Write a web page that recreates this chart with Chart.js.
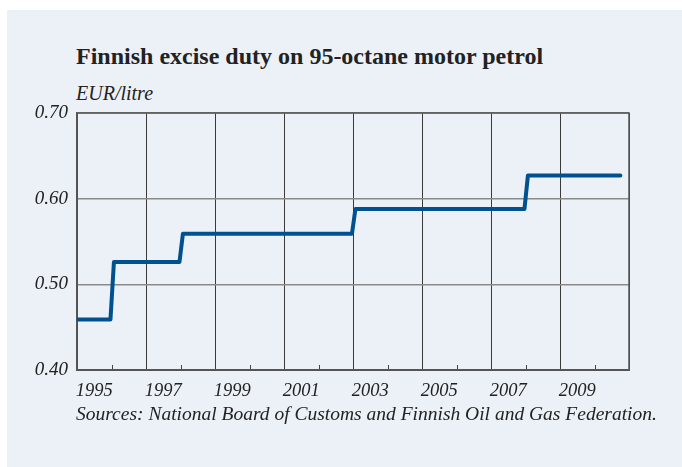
<!DOCTYPE html>
<html lang="en">
<head>
    <meta charset="UTF-8">
    <title>Finnish excise duty on 95-octane motor petrol</title>
    <style>
        body {
            margin: 0;
            background: #fff;
            font-family: "Liberation Serif", "Times New Roman", serif;
            color: #222;
        }
        .frame {
            position: relative;
            width: 682px;
            height: 467px;
            overflow: hidden;
        }
        .panel {
            position: absolute;
            left: 7px;
            top: 10px;
            right: 0;
            bottom: 0;
            background-color: #ecf1f8;
        }
        canvas {
            position: absolute;
            left: 0;
            top: 0;
        }
        .title {
            position: absolute;
            left: 76px;
            top: 44px;
            font-size: 24px;
            line-height: 24px;
            font-weight: bold;
            white-space: nowrap;
        }
        .unit {
            position: absolute;
            left: 76px;
            top: 83px;
            font-size: 20px;
            line-height: 20px;
            font-style: italic;
        }
        .source {
            position: absolute;
            left: 76px;
            top: 404px;
            font-size: 19.5px;
            line-height: 19.5px;
            font-style: italic;
            white-space: nowrap;
        }
    </style>
    <script src="https://cdn.jsdelivr.net/npm/chart.js"></script>
</head>
<body>
<div class="frame">
    <div class="panel"></div>
    <div class="title">Finnish excise duty on 95-octane motor petrol</div>
    <div class="unit">EUR/litre</div>
    <canvas id="dutyChart" width="682" height="467"></canvas>
    <div class="source">Sources: National Board of Customs and Finnish Oil and Gas Federation.</div>
</div>
<script>
    // dates when the duty changed (decimal year) and the rate after the change
    const stepYears = [1995.0, 1996.0, 1998.0, 2003.0, 2008.0];
    const dutyRates = [0.459, 0.526, 0.559, 0.588, 0.627];
    const lastYear = 2010.75;

    const yearLabels = [1995, 1997, 1999, 2001, 2003, 2005, 2007, 2009];
    const yTicks = [0.40, 0.50, 0.60, 0.70];

    // step line: flat segments joined by short ramps
    const points = [{ x: stepYears[0], y: dutyRates[0] }];
    for (let i = 1; i < stepYears.length; i++) {
        points.push({ x: stepYears[i] - 0.03, y: dutyRates[i - 1] });
        points.push({ x: stepYears[i] + 0.07, y: dutyRates[i] });
    }
    points.push({ x: lastYear, y: dutyRates[dutyRates.length - 1] });

    Chart.defaults.font.family = '"Liberation Serif", "Times New Roman", serif';
    Chart.defaults.color = '#222';

    // small year ticks pointing into the plot, plus the outer frame
    const frameAndTicks = {
        id: 'frameAndTicks',
        beforeDatasetsDraw(chart) {
            const { ctx, chartArea, scales } = chart;
            ctx.save();
            ctx.strokeStyle = '#444';
            ctx.lineWidth = 1;
            for (let yr = 1996; yr < 2011; yr += 2) {
                const px = Math.round(scales.x.getPixelForValue(yr)) + 0.5;
                ctx.beginPath();
                ctx.moveTo(px, chartArea.bottom);
                ctx.lineTo(px, chartArea.bottom - 5);
                ctx.stroke();
            }
            ctx.strokeStyle = '#555';
            ctx.lineWidth = 1.5;
            ctx.strokeRect(chartArea.left, chartArea.top, chartArea.right - chartArea.left, chartArea.bottom - chartArea.top);
            ctx.restore();
        }
    };

    new Chart(document.getElementById('dutyChart'), {
        type: 'line',
        data: {
            datasets: [{
                data: points,
                borderColor: '#00518f',
                borderWidth: 4,
                borderCapStyle: 'round',
                borderJoinStyle: 'round',
                pointRadius: 0,
                tension: 0,
                fill: false
            }]
        },
        options: {
            responsive: false,
            animation: false,
            devicePixelRatio: 1,
            layout: { padding: { top: 113, right: 53, left: 0, bottom: 0 } },
            plugins: {
                legend: { display: false },
                tooltip: { enabled: false }
            },
            scales: {
                x: {
                    type: 'linear',
                    position: 'bottom',
                    min: 1995,
                    max: 2011,
                    afterBuildTicks: (s) => { s.ticks = yearLabels.concat([2011]).map(v => ({ value: v })); },
                    ticks: { display: false },
                    grid: { color: '#3a3a3a', lineWidth: 1, drawTicks: false },
                    border: { color: '#555', width: 2 },
                    afterFit: (s) => { s.height = 0; }
                },
                xl: {
                    type: 'linear',
                    position: 'bottom',
                    min: 1994.5,
                    max: 2010.5,
                    afterBuildTicks: (s) => { s.ticks = yearLabels.map(v => ({ value: v })); },
                    ticks: {
                        autoSkip: false,
                        maxRotation: 0,
                        padding: 10,
                        color: '#222',
                        font: { size: 18.5, style: 'italic' },
                        callback: (v) => String(v)
                    },
                    grid: { display: false, drawTicks: false },
                    border: { display: false },
                    afterFit: (s) => { s.height = 97; }
                },
                y: {
                    min: 0.4,
                    max: 0.7,
                    afterBuildTicks: (s) => { s.ticks = yTicks.map(v => ({ value: v })); },
                    ticks: {
                        padding: 9,
                        color: '#222',
                        font: { size: 19, style: 'italic' },
                        callback: (v) => v.toFixed(2)
                    },
                    grid: { color: '#8a8a8a', lineWidth: 1.5, drawTicks: false },
                    border: { color: '#555', width: 1.5 },
                    afterFit: (s) => { s.width = 77; }
                }
            }
        },
        plugins: [frameAndTicks]
    });
</script>
</body>
</html>
